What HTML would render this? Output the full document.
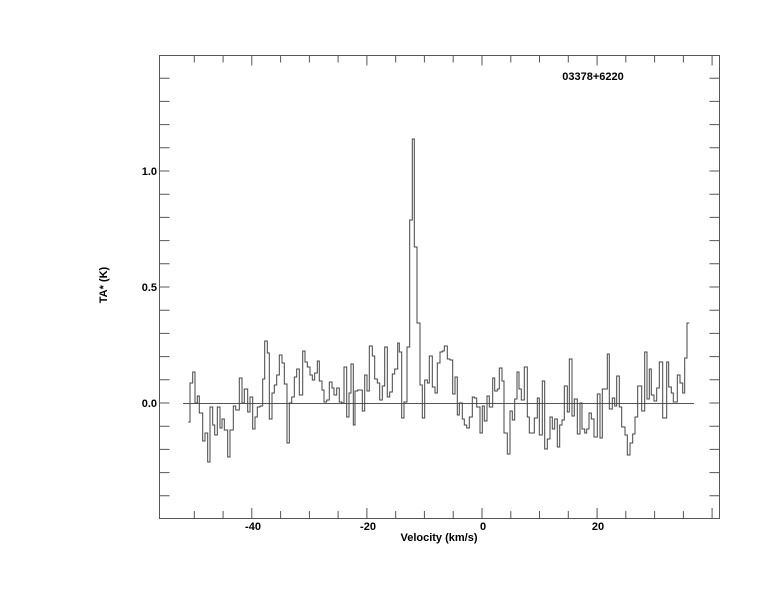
<!DOCTYPE html>
<html><head><style>body{margin:0;background:#fff}svg{display:block}text{font-family:"Liberation Sans",sans-serif;font-weight:bold;font-size:11px;fill:#000}</style></head><body>
<svg width="774" height="612" viewBox="0 0 774 612">
<g stroke="#555" stroke-width="1" fill="none">
<rect x="159.5" y="55.5" width="560" height="463"/>
<path id="yt" d="M159.5,403 h10 M159.5,379.8 h10 M159.5,356.6 h10 M159.5,333.4 h10 M159.5,310.2 h10 M159.5,287 h10 M159.5,263.8 h10 M159.5,240.6 h10 M159.5,217.4 h10 M159.5,194.2 h10 M159.5,171 h10 M159.5,147.8 h10 M159.5,124.6 h10 M159.5,101.4 h10 M159.5,78.2 h10 M159.5,426.2 h10 M159.5,449.4 h10 M159.5,472.6 h10 M159.5,495.8 h10"/>
<use href="#yt" transform="translate(879,0) scale(-1,1)"/>
<path id="xt" d="M194.3,518 v-7 M223.1,518 v-7 M251.8,518 v-10 M280.6,518 v-7 M309.4,518 v-7 M338.1,518 v-7 M366.9,518 v-10 M395.7,518 v-7 M424.4,518 v-7 M453.2,518 v-7 M482,518 v-10 M510.8,518 v-7 M539.5,518 v-7 M568.3,518 v-7 M597.1,518 v-10 M625.8,518 v-7 M654.6,518 v-7 M683.4,518 v-7 M712.1,518 v-10"/>
<use href="#xt" transform="translate(0,573.5) scale(1,-1)"/>
<path d="M183,403.5 H694"/>
<path stroke="#444" d="M188.3,422 H190 V383 H192.7 V372 H195 V403 H197.3 V396 H199.3 V413 H202.7 V441 H205 V433 H207.7 V462 H210 V407 H212.7 V425 H214.7 V435 H217.3 V407 H220 V428 H222 V419 H224.3 V430 H227.7 V457 H230 V430 H233.3 V406 H235.7 V410 H239.3 V378 H242 V403 H244.3 V389 H247.7 V412 H250 V397 H252.7 V429 H255 V417 H257.3 V407 H260 V406 H262.7 V379 H264.7 V341 H267.3 V353 H269.3 V419 H272 V393 H274.3 V385 H276.7 V375 H279.3 V355 H282 V363 H284.3 V384 H287 V443 H289.3 V403 H291.7 V397 H294.3 V377 H296.7 V369 H299.3 V395 H302.7 V351 H305 V362 H307.3 V367 H310 V375 H312.3 V380 H314.7 V373 H317.3 V361 H319.3 V381 H322 V390 H324 V402 H326.7 V400 H329.3 V382 H332 V388 H334 V395 H336.7 V388 H339.3 V402 H341.7 V403 H344 V367 H346.7 V417 H349 V393 H351 V364 H353.3 V425 H355 V391 H357.7 V390 H362.3 V411 H364.7 V375 H367 V391 H369.3 V346 H372.3 V356 H374.7 V379 H377.3 V383 H379.7 V400 H382.3 V386 H384.7 V347 H387.3 V397 H389.7 V392 H392.3 V374 H394.7 V369 H397.7 V343 H399.3 V352 H401.7 V418 H404 V402 H407 V347 H409.7 V220 H412.3 V139 H414.3 V247 H417 V323 H420 V385 H422.3 V418 H424.7 V380 H427.3 V383 H429.3 V356 H432.3 V387 H435 V393 H437.3 V363 H440 V352 H442.3 V351 H444.3 V346 H447.3 V359 H450 V360 H452.7 V394 H455 V377 H457.3 V415 H459.3 V403 H462.3 V419 H464.3 V425 H466.7 V428 H469.3 V417 H472.3 V397 H474.3 V398 H476.7 V407 H480 V433 H482.3 V406 H484.3 V421 H487 V396 H489.3 V407 H492.7 V378 H494.7 V391 H497.3 V389 H499.3 V368 H502 V381 H504 V433 H507.3 V454 H510 V411 H512.3 V420 H514.7 V399 H517 V372 H519 V389 H521.3 V400 H524.3 V367 H527.3 V417 H529.3 V433 H534.3 V418 H537.3 V398 H539.3 V435 H542.3 V381 H544.7 V449 H547.3 V439 H550 V417 H552.3 V429 H554.7 V419 H557.3 V447 H559.7 V425 H562 V420 H564.3 V386 H567.3 V412 H569.3 V359 H572 V416 H574.3 V399 H577.3 V434 H580 V403 H582 V429 H584.7 V433 H586.7 V429 H589 V413 H591.3 V419 H594 V437 H597.3 V394 H600 V438 H602.3 V389 H607.3 V354 H609.3 V409 H612.3 V398 H614.7 V406 H616.7 V376 H619.3 V407 H621.7 V427 H625 V435 H627.3 V455 H630 V443 H632.7 V434 H635 V417 H637.7 V386 H641.7 V411 H644.7 V352 H647 V399 H649.3 V369 H651.3 V395 H654 V401 H656.7 V388 H659.3 V362 H662.7 V418 H666.7 V362 H668.7 V387 H671.3 V393 H673.3 V402 H677.3 V375 H680 V383 H682.7 V393 H684.7 V358 H687 V323 H689.3"/>
</g>
<text x="253" y="530" text-anchor="middle">-40</text>
<text x="368" y="530" text-anchor="middle">-20</text>
<text x="483" y="530" text-anchor="middle">0</text>
<text x="598" y="530" text-anchor="middle">20</text>
<text x="157" y="407" text-anchor="end">0.0</text>
<text x="157" y="291" text-anchor="end">0.5</text>
<text x="157" y="175" text-anchor="end">1.0</text>
<text x="439" y="541" text-anchor="middle">Velocity (km/s)</text>
<text x="593" y="80" text-anchor="middle">03378+6220</text>
<text transform="translate(107,285) rotate(-90)" text-anchor="middle">TA* (K)</text>
</svg>
</body></html>
